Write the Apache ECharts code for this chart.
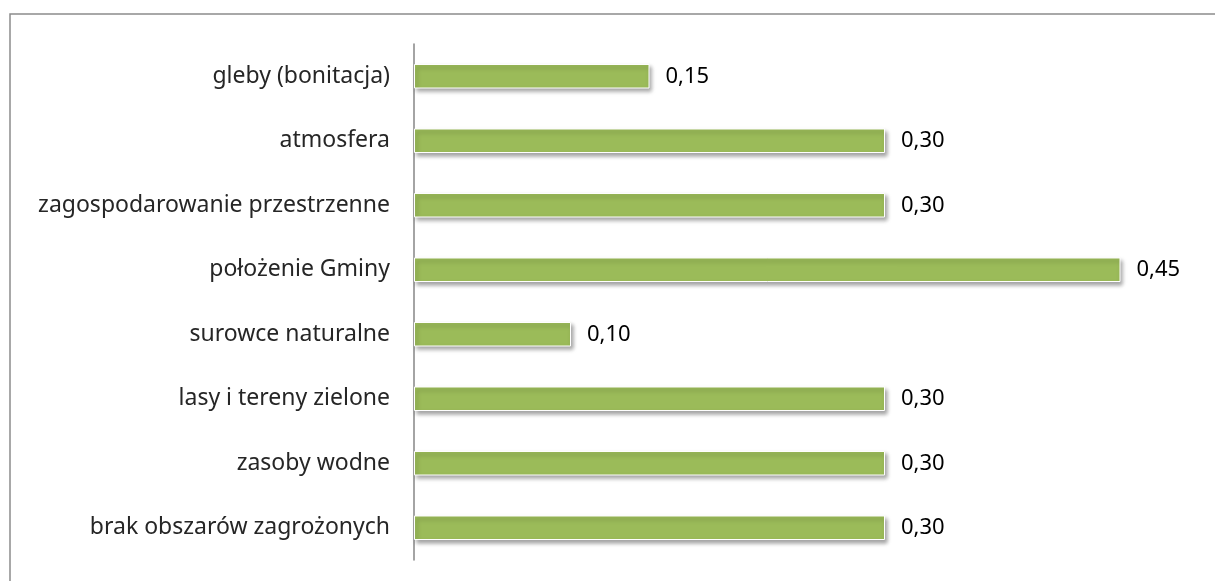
<!DOCTYPE html>
<html>
<head>
<meta charset="utf-8">
<script src="https://cdn.jsdelivr.net/npm/echarts@6/dist/echarts.min.js"></script>
<style>
  html, body { margin: 0; padding: 0; background: #fff; }
  #chart { width: 1215px; height: 581px; }
</style>
</head>
<body>
<div id="chart"></div>
<script>
// categories from top to bottom
const categories = [
  'gleby (bonitacja)',
  'atmosfera',
  'zagospodarowanie przestrzenne',
  'położenie Gminy',
  'surowce naturalne',
  'lasy i tereny zielone',
  'zasoby wodne',
  'brak obszarów zagrożonych'
]
const values = [0.15, 0.30, 0.30, 0.45, 0.10, 0.30, 0.30, 0.30]

const chart = echarts.init(document.getElementById('chart'))

const option = {
  animation: false,
  textStyle: { fontFamily: 'Noto Sans' },
  graphic: [
    {
      type: 'rect',
      shape: { x: 10, y: 14, width: 1300, height: 700 },
      style: { fill: 'none', stroke: '#8c8c8c', lineWidth: 1.5 }
    }
  ],
  grid: { left: 414, right: 16, top: 44, bottom: 21 },
  xAxis: {
    type: 'value',
    min: 0,
    max: 0.5,
    show: false
  },
  yAxis: {
    type: 'category',
    data: categories,
    inverse: true,
    axisLine: { show: true, lineStyle: { color: '#868686', width: 1.5 } },
    axisTick: { show: false },
    axisLabel: { color: '#262626', fontSize: 23, margin: 24 }
  },
  series: [
    {
      type: 'bar',
      data: values,
      barWidth: '38%',
      itemStyle: {
        color: '#9bbb59',
        borderColor: '#ffffff',
        borderWidth: 1,
        shadowBlur: 4,
        shadowOffsetX: 2,
        shadowOffsetY: 3,
        shadowColor: 'rgba(0,0,0,0.35)'
      },
      label: {
        show: true,
        position: 'right',
        distance: 16,
        color: '#000',
        fontSize: 22,
        formatter: p => p.value.toFixed(2).replace('.', ',')
      }
    }
  ]
}

chart.setOption(option)
</script>
</body>
</html>
